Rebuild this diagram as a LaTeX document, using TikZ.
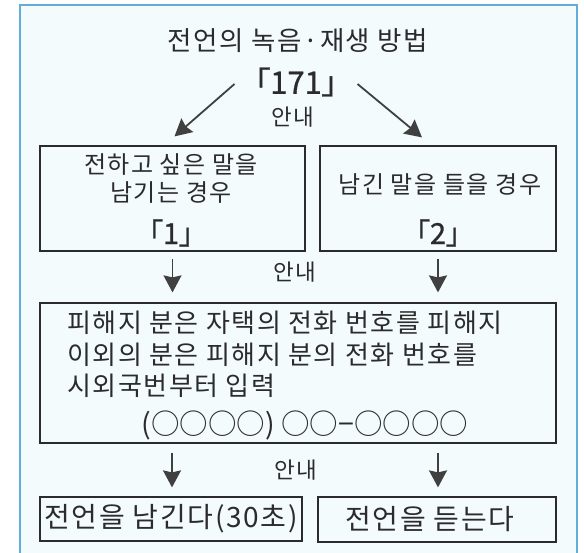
\documentclass[tikz,border=0pt]{standalone}
\usepackage{fontspec}
\newfontfamily\kr{Noto Sans CJK KR}
\newfontfamily\krb[FakeBold=0.9]{Noto Sans CJK KR}
\newfontfamily\krs[LetterSpace=6]{Noto Sans CJK KR}
\usetikzlibrary{arrows.meta}
\definecolor{ink}{HTML}{2B2B2B}
\definecolor{framec}{HTML}{62AED8}
\definecolor{bgc}{HTML}{F4FBFD}
\newcommand{\brkt}[1]{「\kern-0.5pt#1\kern-0.5pt」}
\begin{document}
\begin{tikzpicture}[x=1pt,y=-1pt,
  txt/.style={font=\krs\fontsize{24}{28}\selectfont, text=ink, inner sep=0pt},
  midt/.style={font=\krs\fontsize{26}{30}\selectfont, text=ink, inner sep=0pt},
  big/.style={font=\krs\fontsize{28}{32}\selectfont, text=ink, inner sep=0pt},
  brk/.style={font=\krb\fontsize{31}{34}\selectfont, text=ink, inner sep=0pt},
  boxc/.style={draw=ink, line width=1.2pt, rectangle, inner sep=0pt},
  arr/.style={draw=ink!90, line width=1.8pt, -{Stealth[length=17pt,width=18pt,inset=2pt]}},
  guide/.style={font=\krs\fontsize{22.5}{26}\selectfont, text=ink, inner sep=0pt}]
\useasboundingbox (0,0) rectangle (584,553);
\fill[white] (0,0) rectangle (584,553);
\fill[bgc] (20,5) rectangle (577,553);
\draw[framec, line width=1.6pt] (20,553) -- (20,5) -- (577,5) -- (577,553);

% title
\node[txt, font=\krs\fontsize{26.5}{30}\selectfont] (title) at (298,41) {전언의 녹음·재생 방법};
\node[brk] (n171) at (296,82) {\brkt{171}};
\node[guide] (g1) at (293,117) {안내};

% row 1 boxes
\node[boxc, minimum width=265pt, minimum height=105pt] (box1) at (172.5,198.5) {};
\node[boxc, minimum width=236pt, minimum height=105pt] (box2) at (438,198.5) {};
\node[txt] (b1l1) at (171,165) {전하고 싶은 말을};
\node[txt] (b1l2) at (171,193) {남기는 경우};
\node[brk, font=\krb\fontsize{29}{32}\selectfont] (b1n) at (171,233) {\brkt{1}};
\node[txt] (b2l1) at (440,185) {남긴 말을 들을 경우};
\node[brk, font=\krb\fontsize{29}{32}\selectfont] (b2n) at (438,233) {\brkt{2}};

% arrows from 171
\draw[arr] ([xshift=-5pt,yshift=-2pt]n171.west) -- ([xshift=2pt,yshift=9pt]box1.north);
\draw[arr] ([xshift=5pt,yshift=-2pt]n171.east) -- ([xshift=-16pt,yshift=8pt]box2.north);

% row 2
\node[boxc, minimum width=516pt, minimum height=140pt] (box3) at (298,373) {};
\node[midt, anchor=west] (b3l1) at (67,323) {피해지 분은 자택의 전화 번호를 피해지};
\node[midt, anchor=west] (b3l2) at (67,355) {이외의 분은 피해지 분의 전화 번호를};
\node[midt, anchor=west] (b3l3) at (67,386) {시외국번부터 입력};
\node[font=\kr\fontsize{28.5}{32}\selectfont, text=ink, inner sep=0pt] (b3l4) at (305,425) {(○○○○) ○○−○○○○};

\node[guide] (g2) at (295,272) {안내};
\draw[arr] ([yshift=-7pt]box1.south) -- ([xshift=-125.5pt,yshift=10pt]box3.north);
\draw[arr] ([yshift=-7pt]box2.south) -- ([xshift=140pt,yshift=10pt]box3.north);

% row 3
\node[boxc, minimum width=262pt, minimum height=44pt] (box4) at (171,519) {};
\node[boxc, minimum width=238pt, minimum height=45pt] (box5) at (437,519.5) {};
\node[big] (b4t) at (171,519) {전언을 남긴다(30초)};
\node[big] (b5t) at (430,519) {전언을 듣는다};

\node[guide] (g3) at (296,470) {안내};
\draw[arr] ([xshift=1pt,yshift=-9pt]box3.south -| box4.north) -- ([xshift=1pt,yshift=9pt]box4.north);
\draw[arr] ([xshift=1pt,yshift=-9pt]box3.south -| box5.north) -- ([xshift=1pt,yshift=9pt]box5.north);
\end{tikzpicture}
\end{document}
